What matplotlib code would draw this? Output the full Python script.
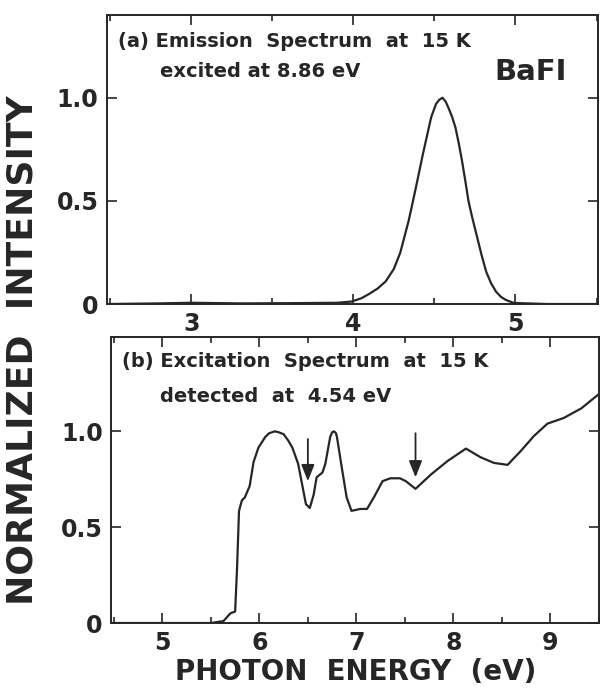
import numpy as np
import matplotlib.pyplot as plt
from matplotlib.ticker import MultipleLocator

# (a) emission spectrum, excited at 8.86 eV
em_energy = [2.48, 2.8, 3.0, 3.3, 3.6, 3.9, 3.99, 4.05, 4.10, 4.15, 4.20, 4.25, 4.29,
             4.31, 4.34, 4.36, 4.39, 4.43, 4.45, 4.48, 4.51, 4.53, 4.55, 4.57, 4.59,
             4.61, 4.63, 4.65, 4.67, 4.69, 4.71, 4.73, 4.76, 4.79, 4.82, 4.85, 4.88,
             4.91, 4.94, 4.99, 5.2, 5.51]
em_intensity = [0.0, 0.003, 0.006, 0.003, 0.004, 0.006, 0.012, 0.028, 0.05, 0.075,
                0.11, 0.17, 0.25, 0.31, 0.40, 0.47, 0.58, 0.73, 0.80, 0.905, 0.97, 0.99,
                1.0, 0.98, 0.945, 0.905, 0.855, 0.78, 0.695, 0.60, 0.50, 0.43, 0.335,
                0.24, 0.155, 0.10, 0.06, 0.035, 0.02, 0.005, 0.0, 0.0]

# (b) excitation spectrum, detected at 4.54 eV
ex_energy = [4.47, 5.0, 5.5, 5.63, 5.70, 5.75, 5.77, 5.79, 5.82, 5.85, 5.90, 5.94,
             5.99, 6.06, 6.10, 6.16, 6.20, 6.25, 6.30, 6.34, 6.40, 6.44, 6.48, 6.52,
             6.56, 6.59, 6.65, 6.68, 6.73, 6.75, 6.77, 6.79, 6.80, 6.85, 6.90, 6.95,
             7.04, 7.11, 7.18, 7.27, 7.35, 7.45, 7.51, 7.61, 7.77, 7.94, 8.13, 8.28,
             8.42, 8.56, 8.70, 8.83, 8.97, 9.14, 9.32, 9.49]
ex_intensity = [0.0, 0.0, 0.0, 0.01, 0.05, 0.06, 0.29, 0.585, 0.64, 0.655, 0.715, 0.84,
                0.915, 0.97, 0.99, 1.0, 0.995, 0.985, 0.95, 0.915, 0.83, 0.725, 0.62, 0.60,
                0.67, 0.76, 0.785, 0.83, 0.97, 0.995, 1.0, 0.99, 0.97, 0.81, 0.655, 0.585,
                0.595, 0.595, 0.655, 0.74, 0.755, 0.755, 0.74, 0.70, 0.775, 0.845, 0.91,
                0.865, 0.835, 0.825, 0.90, 0.975, 1.04, 1.07, 1.12, 1.19]

# arrows marking structures in (b): x, tail y, head y
arrow_x = [6.50, 7.61]
arrow_top = [0.96, 0.99]
arrow_tip = [0.74, 0.76]

ink = '#262626'
plt.rcParams['font.family'] = 'DejaVu Sans'
plt.rcParams['font.weight'] = 'bold'

fig = plt.figure(figsize=(6, 6.9), dpi=100)
ax1 = fig.add_axes([0.178, 0.5594, 0.819, 0.4186])
ax2 = fig.add_axes([0.185, 0.0971, 0.813, 0.4139])


def style(ax):
    for s in ax.spines.values():
        s.set_linewidth(1.4)
        s.set_color(ink)
    ax.tick_params(which='both', direction='in', top=True, right=True,
                   color=ink, labelcolor=ink, labelsize=17, width=1.2, pad=6)
    ax.tick_params(which='major', length=7)
    ax.tick_params(which='minor', length=4)
    ax.set_yticks([0, 0.5, 1.0])
    ax.set_yticklabels(['0', '0.5', '1.0'])
    for lab in ax.get_xticklabels() + ax.get_yticklabels():
        lab.set_fontweight('bold')


ax1.plot(em_energy, em_intensity, color=ink, lw=1.6)
ax1.set_xlim(2.48, 5.51)
ax1.set_ylim(0, 1.40)
ax1.set_xticks([3, 4, 5])
ax1.xaxis.set_minor_locator(MultipleLocator(0.5))
style(ax1)
ax1.text(0.022, 0.91, '(a) Emission  Spectrum  at  15 K', transform=ax1.transAxes,
         fontsize=14, color=ink, va='center', ha='left')
ax1.text(0.108, 0.804, 'excited at 8.86 eV', transform=ax1.transAxes, fontsize=14,
         color=ink, va='center', ha='left')
ax1.text(0.788, 0.803, 'BaFI', transform=ax1.transAxes, fontsize=21, color=ink,
         va='center', ha='left')

ax2.plot(ex_energy, ex_intensity, color=ink, lw=1.6)
ax2.set_xlim(4.47, 9.5)
ax2.set_ylim(0, 1.49)
ax2.set_xticks([5, 6, 7, 8, 9])
ax2.xaxis.set_minor_locator(MultipleLocator(0.5))
style(ax2)
ax2.text(0.022, 0.915, '(b) Excitation  Spectrum  at  15 K', transform=ax2.transAxes,
         fontsize=14, color=ink, va='center', ha='left')
ax2.text(0.10, 0.793, 'detected  at  4.54 eV', transform=ax2.transAxes, fontsize=14,
         color=ink, va='center', ha='left')
for x, y0, y1 in zip(arrow_x, arrow_top, arrow_tip):
    ax2.annotate('', xy=(x, y1), xytext=(x, y0),
                 arrowprops=dict(arrowstyle='-|>,head_length=0.5,head_width=0.2',
                                 color=ink, lw=1.3, mutation_scale=20,
                                 shrinkA=0, shrinkB=0))

fig.text(0.037, 0.493, 'NORMALIZED  INTENSITY', rotation=90, fontsize=26,
         color=ink, ha='center', va='center')
fig.text(0.592, 0.026, 'PHOTON  ENERGY  (eV)', fontsize=20, color=ink,
         ha='center', va='center')

fig.savefig('out.png', dpi=100)
